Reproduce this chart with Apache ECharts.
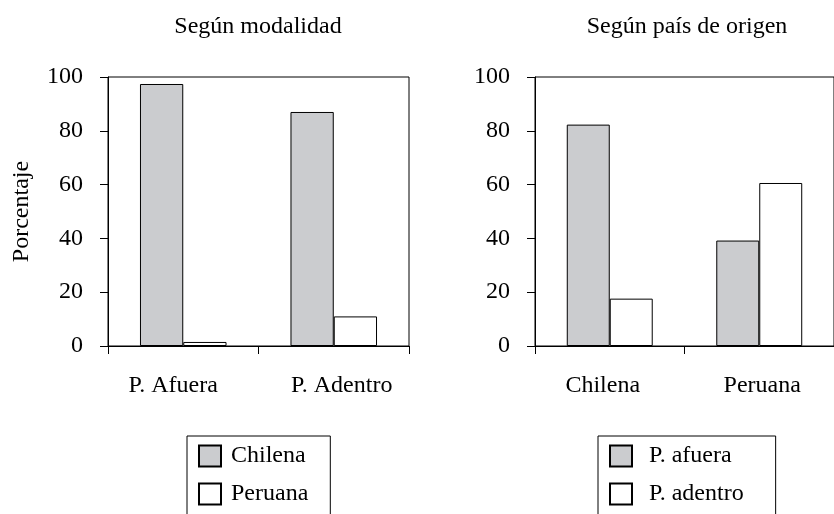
<!DOCTYPE html>
<html>
<head>
<meta charset="utf-8">
<script src="https://cdn.jsdelivr.net/npm/echarts@6/dist/echarts.min.js"></script>
<style>
html,body{margin:0;padding:0;background:#fff;}
#chart{width:834px;height:514px;}
</style>
</head>
<body>
<div id="chart"></div>
<script>
// Data
const leftTitle = 'Según modalidad';
const rightTitle = 'Según país de origen';
const leftCategories = ['P. Afuera', 'P. Adentro'];
const leftChilena = [97.4, 87.0];
const leftPeruana = [1.5, 11.0];
const rightCategories = ['Chilena', 'Peruana'];
const rightAfuera = [82.3, 39.2];
const rightAdentro = [17.6, 60.6];
const yTicks = [0, 20, 40, 60, 80, 100];

const FONT = 'Liberation Serif';
const GRAY = '#cbcccf';
const FS = 24;

const chart = echarts.init(document.getElementById('chart'), null, {renderer: 'canvas'});

function yAxis(gridIndex, name) {
  return {
    type: 'value', gridIndex: gridIndex, min: yTicks[0], max: yTicks[yTicks.length - 1], interval: 20,
    name: name || '', nameLocation: 'middle', nameGap: 74, nameRotate: 90,
    nameTextStyle: {fontFamily: FONT, fontSize: FS, color: '#000'},
    axisLine: {show: true, lineStyle: {color: '#000', width: 1}},
    axisTick: {show: true, length: 8, lineStyle: {color: '#000', width: 1}},
    axisLabel: {fontFamily: FONT, fontSize: FS, color: '#000', margin: 25},
    splitLine: {show: false}
  };
}
// horizontal nudges of the category labels (style only)
function xAxis(gridIndex, cats, shifts) {
  return {
    type: 'category', gridIndex: gridIndex,
    data: cats.map((c, i) => ({
      value: c,
      textStyle: {padding: shifts[i] < 0 ? [0, -2 * shifts[i], 0, 0] : [0, 0, 0, 2 * shifts[i]]}
    })),
    axisLine: {show: true, lineStyle: {color: '#000', width: 1}},
    axisTick: {show: true, length: 8, alignWithLabel: false, lineStyle: {color: '#000', width: 1}},
    axisLabel: {fontFamily: FONT, fontSize: FS, color: '#000', margin: 28},
    splitLine: {show: false}
  };
}
function barSeries(name, data, xi, color) {
  return {
    name: name, type: 'bar', xAxisIndex: xi, yAxisIndex: xi, data: data,
    barGap: '0%', barCategoryGap: '42.5%',
    itemStyle: {color: color, borderColor: '#000', borderWidth: 1},
    emphasis: {disabled: true}, animation: false
  };
}
function legend(names, left, padRight, textPad) {
  return {
    data: names, orient: 'vertical', left: left, top: 436, height: 200,
    itemWidth: 22, itemHeight: 21, itemGap: 14,
    padding: [8, padRight, 40, 11],
    borderColor: '#000', borderWidth: 1, borderRadius: 0,
    icon: 'rect',
    textStyle: {fontFamily: FONT, fontSize: FS, color: '#000', padding: [0, 0, 0, textPad]},
    selectedMode: false
  };
}

chart.setOption({
  animation: false,
  backgroundColor: '#fff',
  title: [
    {text: leftTitle, left: 253, top: 10, textAlign: 'center',
     textStyle: {fontFamily: FONT, fontSize: FS, fontWeight: 'normal', color: '#000'}},
    {text: rightTitle, left: 682, top: 10, textAlign: 'center',
     textStyle: {fontFamily: FONT, fontSize: FS, fontWeight: 'normal', color: '#000'}}
  ],
  grid: [
    {left: 108, top: 77, width: 301, height: 269, show: true, borderColor: '#000', borderWidth: 1, backgroundColor: 'transparent'},
    {left: 535, top: 77, width: 303, height: 269, show: true, borderColor: '#000', borderWidth: 1, backgroundColor: 'transparent'}
  ],
  xAxis: [xAxis(0, leftCategories, [-10, 8]), xAxis(1, rightCategories, [-7, 3])],
  yAxis: [yAxis(0, 'Porcentaje'), yAxis(1)],
  legend: [legend(['Chilena', 'Peruana'], 187, 22, 5), legend(['P. afuera', 'P. adentro'], 598, 32, 12)],
  series: [
    barSeries('Chilena', leftChilena, 0, GRAY),
    barSeries('Peruana', leftPeruana, 0, '#ffffff'),
    barSeries('P. afuera', rightAfuera, 1, GRAY),
    barSeries('P. adentro', rightAdentro, 1, '#ffffff')
  ]
});
</script>
</body>
</html>
